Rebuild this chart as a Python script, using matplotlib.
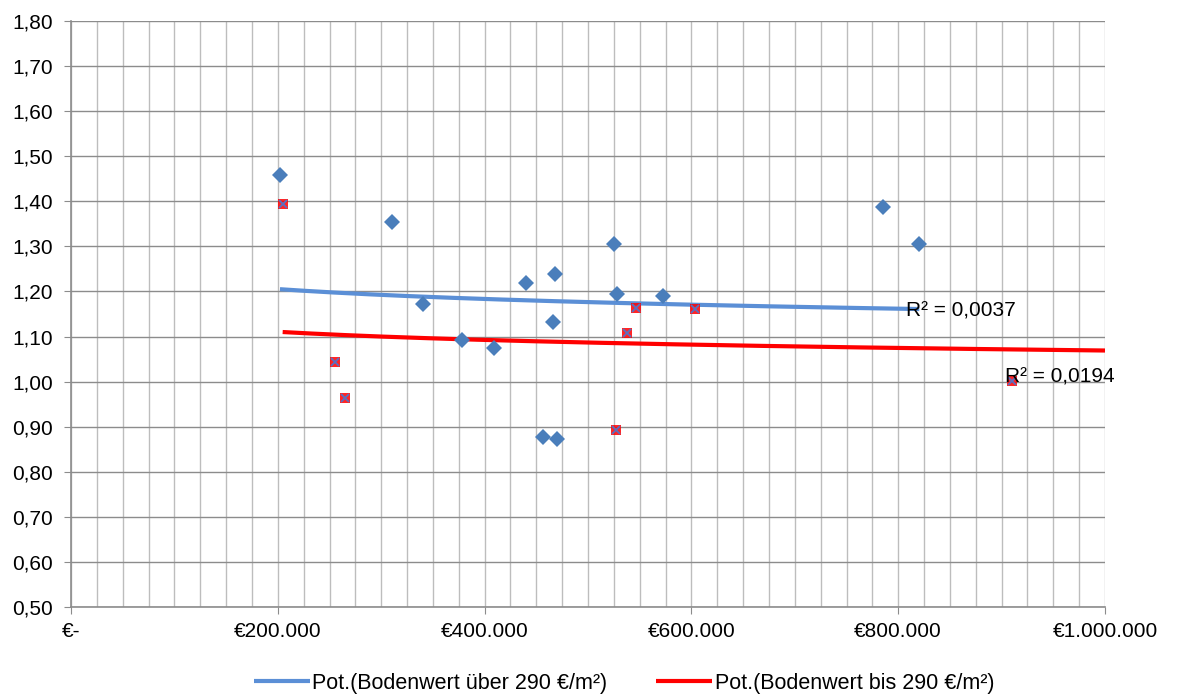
import numpy as np
import matplotlib
matplotlib.use("Agg")
import matplotlib.pyplot as plt
from matplotlib.ticker import FuncFormatter, MultipleLocator

plt.rcParams['font.family'] = ['Liberation Sans', 'DejaVu Sans']

# Series "Bodenwert über 290 €/m²" (blue diamonds)
blue_x = [202100, 310200, 340700, 377800, 409400, 440000, 468100, 466500,
          456800, 470300, 525100, 528400, 572900, 785600, 820400]
blue_y = [1.458, 1.355, 1.172, 1.092, 1.075, 1.218, 1.239, 1.132,
          0.878, 0.872, 1.305, 1.194, 1.190, 1.388, 1.305]

# Series "Bodenwert bis 290 €/m²" (red squares)
red_x = [204700, 255300, 265000, 526700, 538000, 546400, 603500, 909700]
red_y = [1.394, 1.043, 0.964, 0.893, 1.107, 1.163, 1.161, 1.001]

# Power trendlines y = a * x^b
blue_trend_range = [202100, 820400]
blue_trend_ends = [1.205, 1.161]
red_trend_range = [204700, 1000000]
red_trend_ends = [1.110, 1.069]

blue_r2 = "R² = 0,0037"
red_r2 = "R² = 0,0194"
blue_r2_pos = (807500, 1.157)
red_r2_pos = (903000, 1.010)
legend_labels = ["Pot.(Bodenwert über 290 €/m²)", "Pot.(Bodenwert bis 290 €/m²)"]

BLUE_MARK = "#4a7ebb"
BLUE_LINE = "#5b8fd6"
RED = "#ff0000"
FS = 15


def power_curve(rng, ends):
    b = np.log(ends[1] / ends[0]) / np.log(rng[1] / rng[0])
    a = ends[0] / rng[0] ** b
    xs = np.linspace(rng[0], rng[1], 200)
    return xs, a * xs ** b


fig = plt.figure(figsize=(11.77, 7.0), dpi=100)
ax = fig.add_axes([71 / 1177, 1 - 607 / 700, (1105 - 71) / 1177, (607 - 21) / 700])

ax.set_xlim(0, 1000000)
ax.set_ylim(0.5, 1.8)
ax.xaxis.set_major_locator(MultipleLocator(200000))
ax.xaxis.set_minor_locator(MultipleLocator(25000))
ax.yaxis.set_major_locator(MultipleLocator(0.1))

ax.grid(which='minor', axis='x', color='#bdbdbd', linewidth=1.0)
ax.grid(which='major', axis='x', color='#bdbdbd', linewidth=1.0)
ax.grid(which='major', axis='y', color='#8c8c8c', linewidth=1.0)
ax.set_axisbelow(True)

for s in ['top', 'right']:
    ax.spines[s].set_visible(False)
for s in ['left', 'bottom']:
    ax.spines[s].set_color('#8c8c8c')
    ax.spines[s].set_linewidth(1.2)

ax.tick_params(axis='both', which='major', direction='out', length=5,
               color='#8c8c8c', labelsize=FS)
ax.tick_params(axis='y', which='major', pad=8)
ax.tick_params(axis='x', which='minor', length=0)
ax.tick_params(axis='x', which='major', pad=6)


def xfmt(v, pos):
    if abs(v) < 1:
        return "€-"
    return "€" + f"{int(round(v)):,}".replace(",", ".")


def yfmt(v, pos):
    return f"{v:.2f}".replace(".", ",")


ax.xaxis.set_major_formatter(FuncFormatter(xfmt))
ax.yaxis.set_major_formatter(FuncFormatter(yfmt))

# markers
ax.plot(blue_x, blue_y, linestyle='none', marker='D', markersize=8.5,
        color=BLUE_MARK, markeredgewidth=0, zorder=3)
ax.plot(red_x, red_y, linestyle='none', marker='s', markersize=7,
        color=RED, markeredgewidth=0, alpha=0.85, zorder=3)
ax.plot(red_x, red_y, linestyle='none', marker='x', markersize=6,
        color='#5b6fc0', markeredgewidth=1.3, zorder=4)

# trendlines
bx, by = power_curve(blue_trend_range, blue_trend_ends)
rx, ry = power_curve(red_trend_range, red_trend_ends)
l1, = ax.plot(bx, by, color=BLUE_LINE, linewidth=3, zorder=2, solid_capstyle='butt')
l2, = ax.plot(rx, ry, color=RED, linewidth=3, zorder=2, solid_capstyle='butt')

ax.text(*blue_r2_pos, blue_r2, fontsize=FS, ha='left', va='center', zorder=5)
ax.text(*red_r2_pos, red_r2, fontsize=FS, ha='left', va='center', zorder=5)

fig.legend([l1, l2], legend_labels, loc='center', bbox_to_anchor=(0.530, 1 - 683 / 700),
           ncol=2, frameon=False, fontsize=15.5, handlelength=2.6, handletextpad=0.1,
           columnspacing=2.3)

fig.savefig("out.png", dpi=100)
